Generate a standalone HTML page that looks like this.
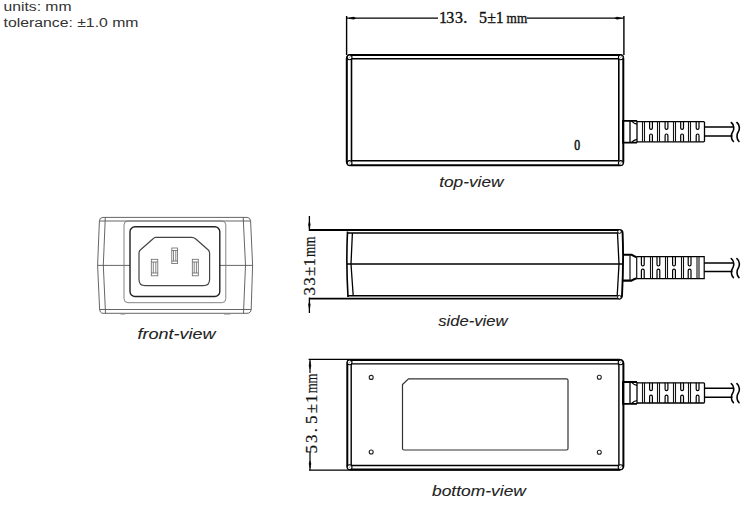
<!DOCTYPE html>
<html><head><meta charset="utf-8">
<style>
html,body{margin:0;padding:0;background:#fff;}
body{width:754px;height:510px;overflow:hidden;position:relative;}
svg{position:absolute;left:0;top:0;}
</style></head><body>
<svg width="754" height="510" viewBox="0 0 754 510">
<defs>
  <path id="sq" fill="none" stroke="#000" stroke-width="1.6" stroke-linecap="round" d="M731.3 0C734.4 2.4 734.3 7.4 732.6 9.6C730.9 11.9 730.9 16.9 733.4 19M736.9 0C740 2.4 739.9 7.4 738.2 9.6C736.5 11.9 736.5 16.9 739 19"/>
  <!-- connector for top / bottom view, local y 0..22 -->
  <g id="conn" fill="none" stroke="#000">
    <path d="M637 0H623V21.8H637" stroke-width="1.8"/>
    <path d="M637 0.8H703.5Q704.5 0.8 704.5 1.8V20.0Q704.5 21.0 703.5 21.0H637" stroke-width="1.3"/>
    <path d="M630 0V21.8M637 0V21.8" stroke-width="1.3"/>
    <path d="M631.5 0.3Q634 2.8 637 3.3M631.5 21.5Q634 19.0 637 18.5" stroke-width="1.2"/>
    <path d="M642.5 0.8V21.0M644.5 0.8V21.0M657.5 0.8V21.0M659.5 0.8V21.0M673.5 0.8V21.0M675.5 0.8V21.0M688.5 0.8V21.0M690.5 0.8V21.0" stroke-width="1.1" stroke="#111"/>
    <path d="M649.6 0.8V7.2A1.4 1.4 0 0 0 652.4 7.2V0.8M649.6 21.0V14.6A1.4 1.4 0 0 1 652.4 14.6V21.0M665.1 0.8V7.2A1.4 1.4 0 0 0 667.9 7.2V0.8M665.1 21.0V14.6A1.4 1.4 0 0 1 667.9 14.6V21.0M680.7 0.8V7.2A1.4 1.4 0 0 0 683.5 7.2V0.8M680.7 21.0V14.6A1.4 1.4 0 0 1 683.5 14.6V21.0M696.2 0.8V7.2A1.4 1.4 0 0 0 699.0 7.2V0.8M696.2 21.0V14.6A1.4 1.4 0 0 1 699.0 14.6V21.0" stroke-width="1.2"/>
    <path d="M704.5 6.3H733M704.5 15.2H732.5" stroke="#000" stroke-width="1.5"/>
    <use href="#sq" transform="translate(0 1.7)"/>
  </g>
</defs>

<g fill="none" stroke="#111">
  <!-- ============ TOP VIEW ============ -->
  <!-- dimension -->
  <path d="M346.6 16V55M623.9 16V55" stroke="#000" stroke-width="1.4"/>
  <path d="M346.8 18.2H438M527 18.2H624" stroke="#000" stroke-width="1.3"/>
  <path d="M349 18.2L353.5 17.1L355.8 18.2L353.5 19.3Z M621.5 18.2L617 17.1L614.8 18.2L617 19.3Z" fill="#000" stroke="#000" stroke-width="0.5"/>
  <!-- box -->
  <rect x="346.8" y="55" width="276.5" height="110.2" rx="3.5" stroke="#000" stroke-width="2"/>
  <rect x="351.5" y="58.8" width="267.3" height="102" rx="1" stroke="#000" stroke-width="1.6"/>
  <circle cx="349.6" cy="57.3" r="2.4" fill="#fff" stroke="#000" stroke-width="1.1"/><path d="M348.40000000000003 58.5L350.8 56.099999999999994" stroke="#888" stroke-width="0.8"/><circle cx="620.8" cy="57.3" r="2.4" fill="#fff" stroke="#000" stroke-width="1.1"/><path d="M619.5999999999999 58.5L622.0 56.099999999999994" stroke="#888" stroke-width="0.8"/><circle cx="349.6" cy="163" r="2.4" fill="#fff" stroke="#000" stroke-width="1.1"/><path d="M348.40000000000003 164.2L350.8 161.8" stroke="#888" stroke-width="0.8"/><circle cx="620.8" cy="163" r="2.4" fill="#fff" stroke="#000" stroke-width="1.1"/><path d="M619.5999999999999 164.2L622.0 161.8" stroke="#888" stroke-width="0.8"/>
  <use href="#conn" transform="translate(0 120.8)"/>

  <!-- ============ SIDE VIEW ============ -->
  <path d="M309.4 216V231M309.4 297.5V313" stroke="#000" stroke-width="1.3"/>
  <path d="M309.4 221.5L310.3 224.6L309.4 228.5L308.5 224.6Z M309.4 302L310.3 304.8L309.4 309L308.5 304.8Z" fill="#000" stroke="#000" stroke-width="0.5"/>
  <path d="M309.4 230H619Q622.6 230 622.6 233Q623.8 262 622 296Q621.6 298.6 618.5 298.6H309.4" stroke="#000" stroke-width="1.9"/>
  <path d="M347 233H618M347.5 295.8H617.5" stroke="#000" stroke-width="1.5"/>
  <path d="M347.5 231.5Q346 264 348 297" stroke="#000" stroke-width="1.6"/>
  <path d="M352.4 233L351 264L353.2 295.8" stroke="#000" stroke-width="1.3"/>
  <path d="M617.5 233L619 264L617.2 295.8" stroke="#000" stroke-width="1.3"/>
  <path d="M346.5 264H623" stroke="#000" stroke-width="1.6"/>
  <circle cx="619.5" cy="231.6" r="1.8" fill="#fff" stroke="#000" stroke-width="1"/><circle cx="619.3" cy="297.2" r="1.8" fill="#fff" stroke="#000" stroke-width="1"/>
  <!-- side connector -->
  <path d="M623 254.7H631.4Q634 256.4 636.7 257.2M623 280.6H631.4Q634 278.9 636.7 278.2" stroke="#000" stroke-width="2.1"/>
  <path d="M630 255V280.5M636.7 257V278.5" stroke-width="1.2"/>
  <path d="M636.7 256.6H704.2V278.6H636.7" stroke="#000" stroke-width="1.2"/>
  <path d="M650.5 256.6V278.6M652.5 256.6V278.6M665.5 256.6V278.6M667.5 256.6V278.6M681.5 256.6V278.6M683.5 256.6V278.6M697 256.6V278.6M699 256.6V278.6" stroke-width="1.1" stroke="#111"/>
  <path d="M641.4 256.6V264.6A1.4 1.4 0 0 0 644.2 264.6V256.6M641.4 278.6V270.6A1.4 1.4 0 0 1 644.2 270.6V278.6M657.0 256.6V264.6A1.4 1.4 0 0 0 659.8 264.6V256.6M657.0 278.6V270.6A1.4 1.4 0 0 1 659.8 270.6V278.6M672.6 256.6V264.6A1.4 1.4 0 0 0 675.4 264.6V256.6M672.6 278.6V270.6A1.4 1.4 0 0 1 675.4 270.6V278.6M688.2 256.6V264.6A1.4 1.4 0 0 0 691.0 264.6V256.6M688.2 278.6V270.6A1.4 1.4 0 0 1 691.0 270.6V278.6" stroke="#000" stroke-width="1.2"/>
  <path d="M704.2 263H733M704.2 271.5H732.5" stroke="#000" stroke-width="1.5"/>
  <use href="#sq" transform="translate(0 258.6)"/>

  <!-- ============ BOTTOM VIEW ============ -->
  <path d="M308.6 359.3H620M309 470.2H620" stroke="#000" stroke-width="1.3"/>
  <path d="M310 359.3V373M310 452V470.2" stroke="#000" stroke-width="1.2"/>
  <path d="M310 361.5L310.9 365.8L310 368.8L309.1 365.8Z M310 461L310.9 463.8L310 468L309.1 463.8Z" fill="#000" stroke="#000" stroke-width="0.5"/>
  <rect x="347.3" y="360" width="276.1" height="109.4" rx="3.5" stroke="#000" stroke-width="2"/>
  <rect x="351.2" y="363.9" width="267.7" height="101.6" rx="1" stroke="#000" stroke-width="1.4"/>
  <path d="M402.5 384.5L408.5 378.8H566.5Q568 378.8 568 380.3V448.5Q568 450 566.5 450H404Q402.5 450 402.5 448.5Z" stroke="#333" stroke-width="1.2"/>
  <circle cx="371.2" cy="377.4" r="2" stroke="#222" stroke-width="1.1"/>
  <circle cx="371.2" cy="452" r="2" stroke="#222" stroke-width="1.1"/>
  <circle cx="599.3" cy="377.3" r="2" stroke="#222" stroke-width="1.1"/>
  <circle cx="599.3" cy="452.2" r="2" stroke="#222" stroke-width="1.1"/>
  <circle cx="349.6" cy="362.3" r="2.4" fill="#fff" stroke="#000" stroke-width="1.1"/><path d="M348.40000000000003 363.5L350.8 361.1" stroke="#888" stroke-width="0.8"/><circle cx="620.6" cy="362.3" r="2.4" fill="#fff" stroke="#000" stroke-width="1.1"/><path d="M619.4 363.5L621.8000000000001 361.1" stroke="#888" stroke-width="0.8"/><circle cx="349.6" cy="467.2" r="2.4" fill="#fff" stroke="#000" stroke-width="1.1"/><path d="M348.40000000000003 468.4L350.8 466.0" stroke="#888" stroke-width="0.8"/><circle cx="620.6" cy="467.2" r="2.4" fill="#fff" stroke="#000" stroke-width="1.1"/><path d="M619.4 468.4L621.8000000000001 466.0" stroke="#888" stroke-width="0.8"/>
  <use href="#conn" transform="translate(0 382)"/>

  <!-- ============ FRONT VIEW ============ -->
  <g stroke="#555" stroke-width="0.9">
    <path d="M103 217.4H247Q250.3 217.4 250.6 221L252.6 265.2L251.2 309Q251 313.3 247 313.3H103Q100 313.3 99.6 309L97.6 265.2L99.4 221Q99.6 217.4 103 217.4Z"/>
    <path d="M105.3 217.4L103.3 265.2L105.5 313.3M243.2 217.4L245.5 265.2L243.5 313.3"/>
    <path d="M99.6 221H250.6M99.6 309.5H251.2"/>
    <path d="M97.6 265.4H130M219.8 265.4H252.6"/>
    <rect x="124" y="221" width="101.8" height="81.7" rx="4" stroke="#777"/>
    <path d="M120.5 313.8H125M224 313.8H230.5" stroke-width="1.3" stroke="#888"/>
  </g>
  <rect x="130" y="226.8" width="89.8" height="69.7" rx="5" stroke="#222" stroke-width="1.4"/>
  <path d="M155.5 237.4H191.5Q194 237.4 195.8 239L208.3 250Q209.6 251.2 209.6 253.2V279.5Q209.6 285.7 203.4 285.7H145.2Q139 285.7 139 279.5V253.2Q139 251.2 140.3 250L152.8 239Q154.5 237.4 155.5 237.4Z" stroke="#444" stroke-width="1.2"/>
  <g stroke="#666" stroke-width="0.8">
    <rect x="171.8" y="248" width="5.7" height="15.6"/>
    <path d="M171.8 250.5H177.5M171.8 261.1H177.5M173.5 250.5V261.1M175.8 250.5V261.1"/>
    <rect x="151.3" y="259.3" width="6.5" height="16.5"/>
    <path d="M151.3 262H157.8M151.3 273H157.8M153.3 262V273M155.8 262V273"/>
    <rect x="192.3" y="259.3" width="6" height="16.5"/>
    <path d="M192.3 262H198.3M192.3 273H198.3M194.2 262V273M196.4 262V273"/>
  </g>
</g>

<!-- ============ TEXT ============ -->
<g font-family="Liberation Serif, serif" fill="#111" stroke="#111" stroke-width="0.35">
  <text y="23.4" font-size="16"><tspan x="438.9">1</tspan><tspan x="446.2">3</tspan><tspan x="455">3</tspan><tspan x="463.3">.</tspan><tspan x="478.9">5</tspan><tspan x="487.2">±</tspan><tspan x="495.8">1</tspan></text>
  <text x="506.6" y="23.2" font-size="15" textLength="20.6" lengthAdjust="spacingAndGlyphs">mm</text>
  <text font-size="15.5" stroke-width="0.6" transform="translate(579.6 150.2) scale(0.76 1)" x="-7.2" y="0">0</text>
  <g transform="translate(315.2 294.4) rotate(-90)" font-size="16" stroke-width="0.2">
    <text y="0" font-size="17"><tspan x="-1">3</tspan><tspan x="8.6">3</tspan><tspan x="18.5">±</tspan><tspan x="27.9">1</tspan></text>
    <text x="37.4" y="0" textLength="20.5" lengthAdjust="spacingAndGlyphs">mm</text>
  </g>
  <g transform="translate(316.6 452.5) rotate(-90)" font-size="16" stroke-width="0.2">
    <text y="0" font-size="17"><tspan x="-0.9">5</tspan><tspan x="9.5">3</tspan><tspan x="20.3">.</tspan><tspan x="28.5">5</tspan><tspan x="39.3">±</tspan><tspan x="49.5">1</tspan></text>
    <text x="59.2" y="0" textLength="19.8" lengthAdjust="spacingAndGlyphs">mm</text>
  </g>
</g>
<g font-family="Liberation Sans, sans-serif" fill="#333" font-size="12.5">
  <text x="3.5" y="10.6" textLength="68" lengthAdjust="spacingAndGlyphs">units: mm</text>
  <text x="3.5" y="26.5" textLength="135" lengthAdjust="spacingAndGlyphs">tolerance: ±1.0 mm</text>
</g>
<g font-family="Liberation Sans, sans-serif" font-style="italic" fill="#222" stroke="#222" stroke-width="0.1" font-size="15.5">
  <text x="439.2" y="187.1" textLength="64.3" lengthAdjust="spacingAndGlyphs">top-view</text>
  <text x="438.2" y="325.7" textLength="69.4" lengthAdjust="spacingAndGlyphs">side-view</text>
  <text x="432" y="495.8" textLength="93.9" lengthAdjust="spacingAndGlyphs">bottom-view</text>
  <text x="137.4" y="339.3" textLength="78.1" lengthAdjust="spacingAndGlyphs">front-view</text>
</g>
</svg>
</body></html>
